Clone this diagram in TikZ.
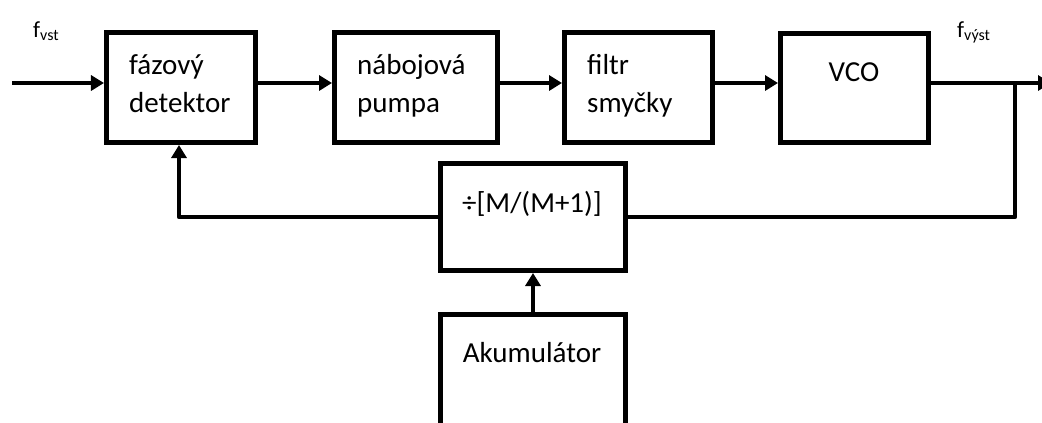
\documentclass[tikz,border=0pt]{standalone}
\usepackage{fontspec}
\setmainfont{Carlito}
\usetikzlibrary{arrows.meta}
\begin{document}
\begin{tikzpicture}[x=1bp,y=-1bp,
  blk/.style={draw, line width=5bp, inner sep=0pt},
  txt/.style={font=\fontsize{29bp}{35bp}\selectfont, inner sep=0pt, anchor=base west},
  ctxt/.style={font=\fontsize{29bp}{35bp}\selectfont, inner sep=0pt, anchor=base},
  wire/.style={line width=4.6bp},
  arr/.style={wire, -{Triangle[length=13bp,width=15bp]}},
  sig/.style={inner sep=0pt, anchor=base west}]
\useasboundingbox (0,0) rectangle (1042,422);
\clip (0,0) rectangle (1042,422);

% blocks of the loop
\node[blk, minimum width=149bp, minimum height=110bp] (pd) at (181,87.5) {};
\node[blk, minimum width=163bp, minimum height=110bp] (np) at (416,87.5) {};
\node[blk, minimum width=148bp, minimum height=110bp] (lf) at (638.5,87.5) {};
\node[blk, minimum width=148bp, minimum height=109bp] (vco) at (854.5,87.5) {};
\node[blk, minimum width=185bp, minimum height=107bp] (dv) at (533,217) {};
\node[blk, minimum width=185bp, minimum height=133bp] (ac) at (533,381) {};

% block captions
\node[txt] (pdA) at (129,74) {fázový};
\node[txt] (pdB) at (129,112) {detektor};
\node[txt] (npA) at (357,74) {nábojová};
\node[txt] (npB) at (357,112) {pumpa};
\node[txt] (lfA) at (587,74) {filtr};
\node[txt] (lfB) at (587,112) {smyčky};
\node[ctxt] (vcoT) at (854,81) {VCO};
\node[ctxt] (dvT) at (532,212) {÷[M/(M+1)]};
\node[ctxt] (acT) at (532,362) {Akumulátor};

% signal names
\node[sig] (fin) at (33,37) {\fontsize{23bp}{23bp}\selectfont f\raisebox{-3bp}{\fontsize{16bp}{16bp}\selectfont vst}};
\node[sig] (fout) at (957,37) {\fontsize{23bp}{23bp}\selectfont f\raisebox{-3bp}{\fontsize{16bp}{16bp}\selectfont výst}};

% connectors
\coordinate (in) at (12,83);
\coordinate (out) at (1051,83);
\coordinate (tap) at (1015,83);
\coordinate (fb) at (179,217);
\draw[arr] (in) -- (in -| pd.west);
\draw[arr] (in -| pd.east) -- (in -| np.west);
\draw[arr] (in -| np.east) -- (in -| lf.west);
\draw[arr] (in -| lf.east) -- (in -| vco.west);
\draw[arr] (in -| vco.east) -- (out);
\draw[wire, line join=round] (tap) -- (tap |- dv.east) -- (dv.east);
\draw[arr, line join=round] (dv.west) -- (fb) -- (fb |- pd.south);
\draw[arr] (ac.north) -- (dv.south);
\end{tikzpicture}
\end{document}
